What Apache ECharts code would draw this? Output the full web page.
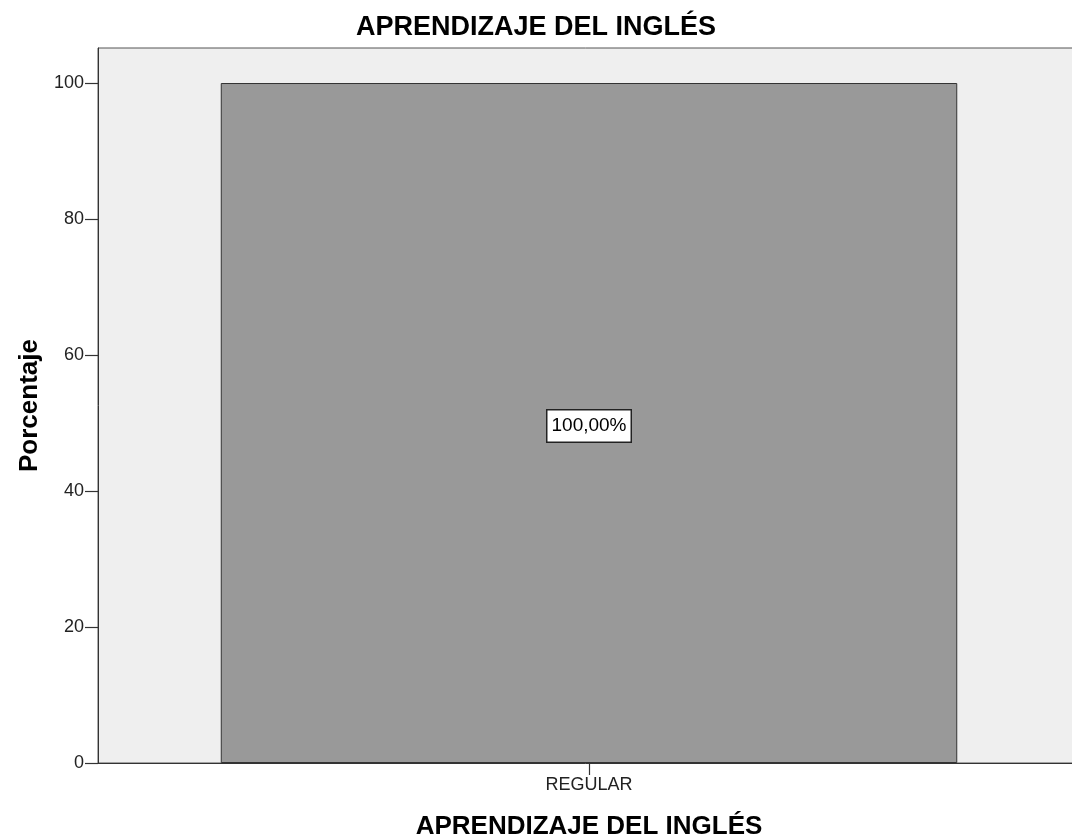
<!DOCTYPE html>
<html>
<head>
<meta charset="utf-8">
<script src="https://cdn.jsdelivr.net/npm/echarts@6/dist/echarts.min.js"></script>
<style>html,body{margin:0;padding:0;background:#fff}#c{width:1072px;height:840px}</style>
</head>
<body>
<div id="c"></div>
<script>
const categories = ['REGULAR'];
const percentages = [100];
const yTicks = [0, 20, 40, 60, 80, 100];
const chartTitle = 'APRENDIZAJE DEL INGLÉS';
const xAxisName = 'APRENDIZAJE DEL INGLÉS';
const yAxisName = 'Porcentaje';

const chart = echarts.init(document.getElementById('c'), null, {renderer: 'canvas'});
const font = 'Liberation Sans, Arial, sans-serif';
chart.setOption({
  animation: false,
  backgroundColor: '#ffffff',
  title: {
    text: chartTitle,
    left: 'center',
    top: 9,
    textStyle: {fontFamily: font, fontSize: 27, fontWeight: 'bold', color: '#000'}
  },
  grid: {
    left: 98, top: 48, width: 982, height: 715,
    containLabel: false,
    outerBoundsMode: 'none',
    show: true, backgroundColor: '#efefef', borderColor: '#555', borderWidth: 1
  },
  xAxis: {
    type: 'category',
    data: categories,
    name: xAxisName,
    nameLocation: 'middle',
    nameGap: 51,
    nameTextStyle: {fontFamily: font, fontSize: 26, fontWeight: 'bold', color: '#000'},
    axisLine: {show: true, lineStyle: {color: '#333', width: 1}},
    axisTick: {show: true, alignWithLabel: true, length: 12, lineStyle: {color: '#333', width: 1.2}},
    axisLabel: {fontFamily: font, fontSize: 18, color: '#222', margin: 13}
  },
  yAxis: {
    type: 'value',
    min: 0,
    max: 105.15,
    interval: 20,
    name: yAxisName,
    nameLocation: 'middle',
    nameGap: 52,
    nameTextStyle: {fontFamily: font, fontSize: 26, fontWeight: 'bold', color: '#000'},
    axisLine: {show: true, lineStyle: {color: '#333', width: 1}},
    axisTick: {show: true, length: 13, lineStyle: {color: '#333', width: 1.2}, customValues: yTicks},
    axisLabel: {fontFamily: font, fontSize: 18, color: '#222', margin: 14, customValues: yTicks},
    splitLine: {show: false}
  },
  series: [{
    type: 'bar',
    data: percentages,
    barWidth: '75%',
    itemStyle: {color: '#999999', borderColor: '#333', borderWidth: 1},
    label: {
      show: true,
      position: 'inside',
      offset: [0, 3],
      formatter: p => p.value.toFixed(2).replace('.', ',') + '%',
      fontFamily: font, fontSize: 19, color: '#000',
      backgroundColor: '#fff', borderColor: '#222', borderWidth: 1.5, padding: [7, 4, 5, 4]
    }
  }]
});
</script>
</body>
</html>
